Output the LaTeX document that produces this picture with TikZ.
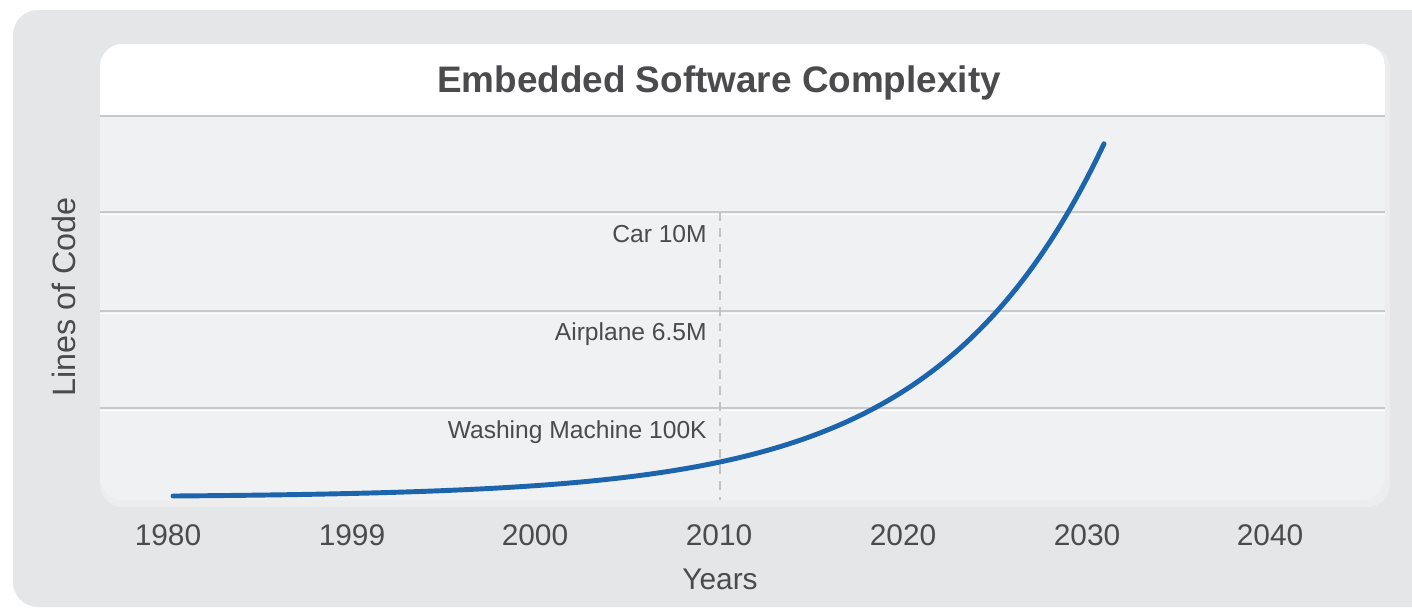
\documentclass[tikz,border=0pt]{standalone}
\usepackage{fontspec}
\setmainfont{Liberation Sans}
\definecolor{outergray}{HTML}{E5E6E8}
\definecolor{plotgray}{HTML}{F0F1F3}
\definecolor{gridgray}{HTML}{C8C9CB}
\definecolor{dashgray}{HTML}{C2C3C5}
\definecolor{curveblue}{HTML}{1C65AD}
\definecolor{textgray}{HTML}{4B4B4D}
\begin{document}
\begin{tikzpicture}
[x=0.02cm, y=-0.02cm,
 every node/.style={text=textgray, inner sep=0pt},
 yearlabel/.style={anchor=base, font=\fontsize{17}{20}\selectfont},
 itemlabel/.style={anchor=base east, font=\fontsize{14}{16}\selectfont},
 gridline/.style={gridgray, line width=1.1pt}]
\useasboundingbox (0,0) rectangle (1412,610);
\fill [white] (0,0) rectangle (1412,610);
\fill [outergray, rounded corners=0.5cm] (13,10) rectangle (1450,607);

% card with shadow
\fill [black!12, rounded corners=0.45cm] (101,47) rectangle (1388,504);
\fill [black!7, rounded corners=0.45cm] (100,46) rectangle (1390,507);
\begin{scope}
\clip [rounded corners=0.45cm] (100,44) rectangle (1385,500);
\fill [plotgray] (100,44) rectangle (1385,500);
\fill [white] (100,44) rectangle (1385,115);
\draw [gridline] (100,116)--(1385,116);
\draw [gridline] (100,212)--(1385,212);
\draw [white, line width=1pt] (100,214.5)--(1385,214.5);
\draw [gridline] (100,311)--(1385,311);
\draw [white, line width=1pt] (100,313.5)--(1385,313.5);
\draw [gridline] (100,408)--(1385,408);
\draw [white, line width=1pt] (100,410.5)--(1385,410.5);
\end{scope}

\node [anchor=base, font=\bfseries\fontsize{21}{24}\selectfont] (title) at (719,92) {Embedded Software Complexity};

% 2010 marker
\coordinate (marktop) at (720,212);
\coordinate (markbot) at (720,500);
\draw [dashgray, line width=1.1pt, dash pattern=on 5pt off 4pt] (marktop)--(markbot);

\node [itemlabel] (car) at (707,242) {Car 10M};
\node [itemlabel] (plane) at (707,340) {Airplane 6.5M};
\node [itemlabel] (washer) at (707,438) {Washing Machine 100K};

% growth curve
\draw [curveblue, line width=2.8pt, line cap=round] plot [domain=173:1104, samples=120, smooth]
(\x, {496 - 1.33*(exp(0.006*(\x-173)) - 1)});

\node [yearlabel] (y1980) at (168,545) {1980};
\node [yearlabel] (y1999) at (352,545) {1999};
\node [yearlabel] (y2000) at (535,545) {2000};
\node [yearlabel] (y2010) at (719,545) {2010};
\node [yearlabel] (y2020) at (903,545) {2020};
\node [yearlabel] (y2030) at (1087,545) {2030};
\node [yearlabel] (y2040) at (1270,545) {2040};

\node [yearlabel] (years) at (720,589) {Years};
\node [yearlabel, rotate=90, font=\fontsize{18.4}{21}\selectfont] (loc) at (75,297) {Lines of Code};
\end{tikzpicture}
\end{document}
